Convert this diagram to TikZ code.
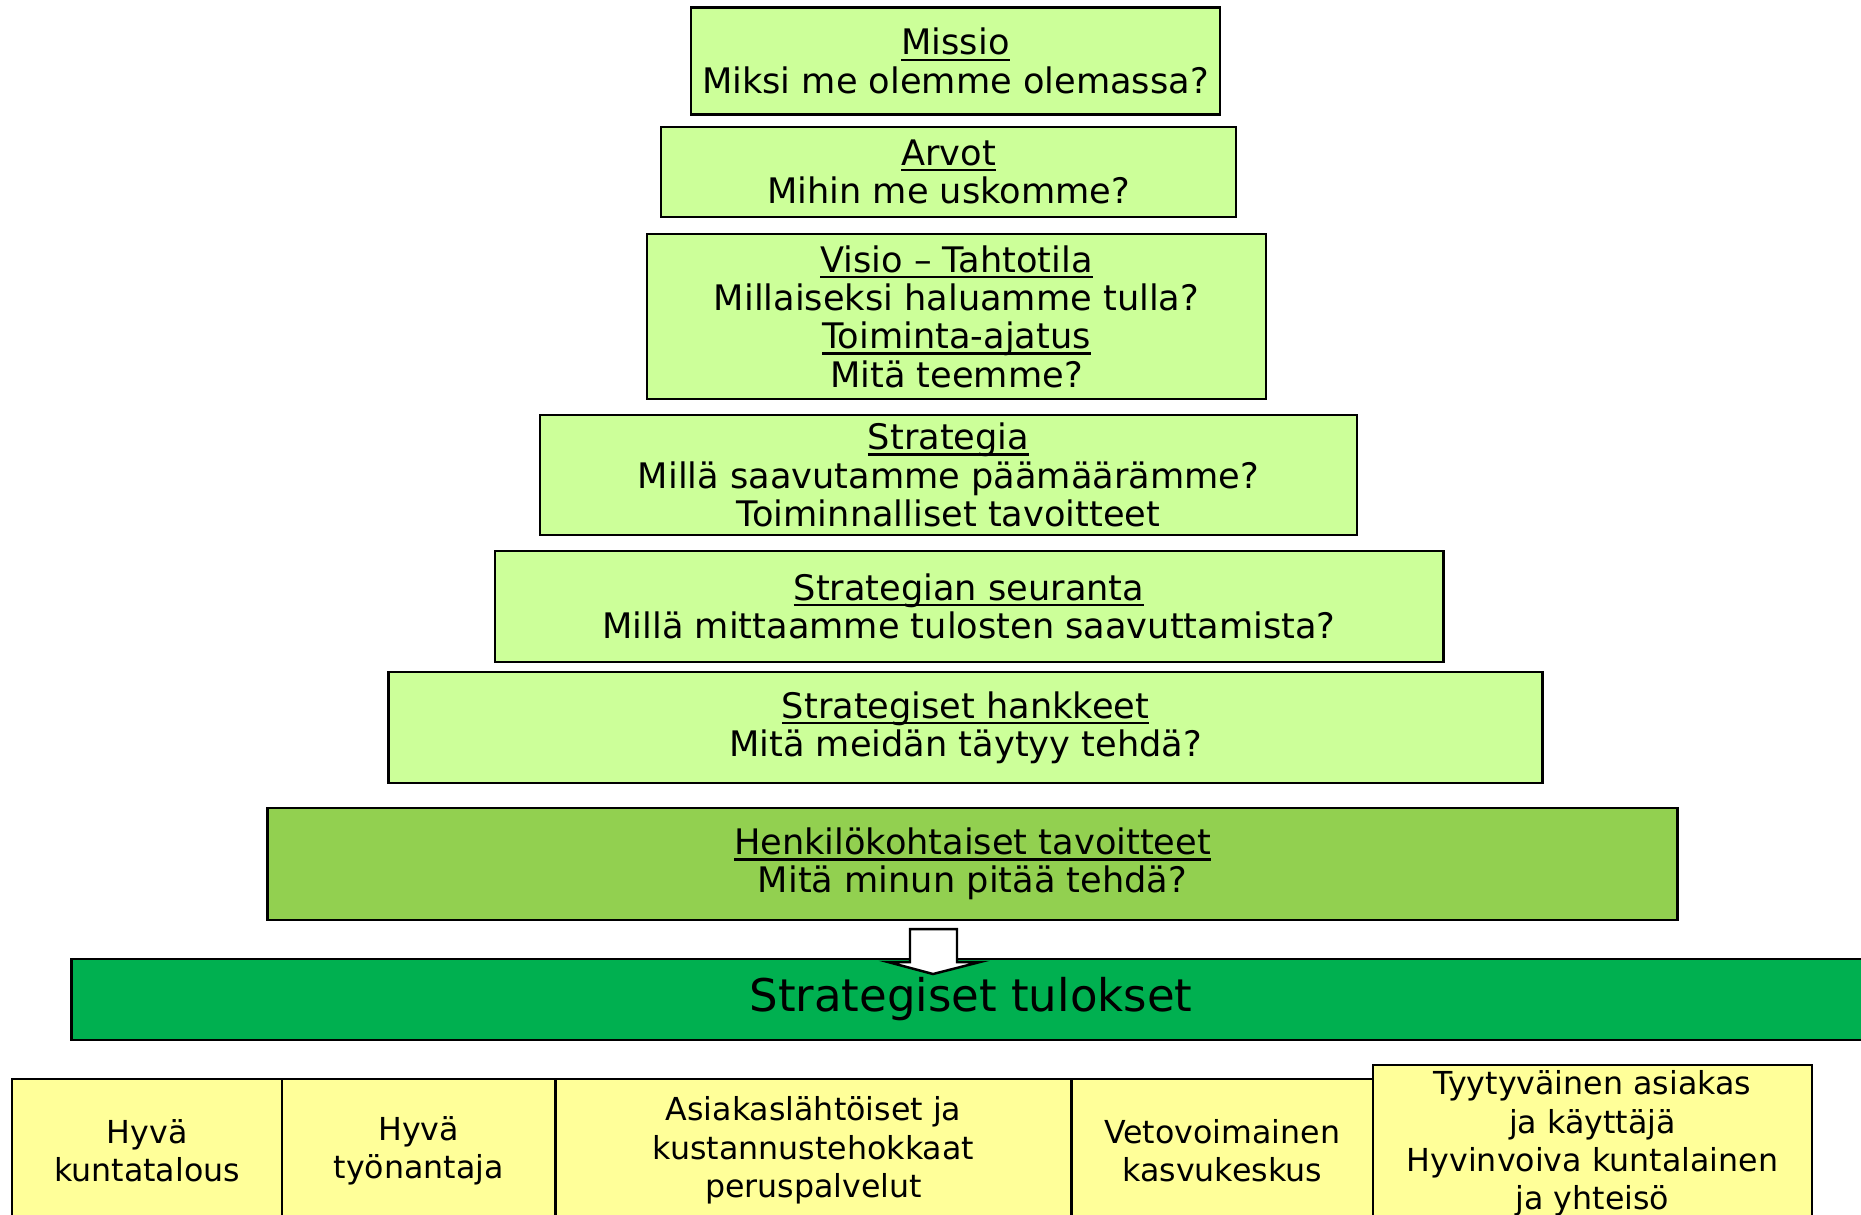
\documentclass[tikz,border=0pt]{standalone}
\usepackage{fontspec}
\setmainfont{DejaVu Sans}
\usepackage{xcolor}
\usetikzlibrary{positioning}
\definecolor{lightlime}{HTML}{CCFF99}
\definecolor{midgreen}{HTML}{92D050}
\definecolor{deepgreen}{HTML}{00B050}
\definecolor{paleyellow}{HTML}{FFFF99}
% underline that keeps the line spacing
\newcommand{\uln}[1]{\setbox0=\hbox{#1}\rlap{\rule[-0.17em]{\wd0}{0.065em}}\box0}

\begin{document}
\begin{tikzpicture}[
  x=0.01cm, y=-0.01cm,
  tier/.style={draw,line width=0.7pt,fill=lightlime,align=center,inner sep=0pt,
    font=\fontsize{10}{10.9}\selectfont},
  goal/.style={draw,line width=0.7pt,fill=paleyellow,align=center,inner sep=0pt,
    outer sep=0pt,minimum height=1.43cm,font=\fontsize{9}{10.9}\selectfont},
  node distance=0pt
    ]
\useasboundingbox (0,0) rectangle (1861,1214);
\clip (0,0) rectangle (1861,1214);

% pyramid
\node[tier,minimum width=5.29cm,minimum height=1.07cm] (missio) at (955.5,61)
  {\uln{Missio}\\Miksi me olemme olemassa?};
\node[tier,minimum width=5.75cm,minimum height=0.90cm] (arvot) at (948.5,172)
  {\uln{Arvot}\\Mihin me uskomme?};
\node[tier,minimum width=6.19cm,minimum height=1.65cm] (visio) at (956.5,316.5)
  {\uln{Visio – Tahtotila}\\Millaiseksi haluamme tulla?\\\uln{Toiminta-ajatus}\\Mitä teemme?};
\node[tier,minimum width=8.17cm,minimum height=1.20cm] (strategia) at (948.5,475)
  {\uln{Strategia}\\Millä saavutamme päämäärämme?\\Toiminnalliset tavoitteet};
\node[tier,minimum width=9.48cm,minimum height=1.11cm] (seuranta) at (969,606.5)
  {\uln{Strategian seuranta}\\Millä mittaamme tulosten saavuttamista?};
\node[tier,minimum width=11.53cm,minimum height=1.11cm] (hankkeet) at (965.5,727.5)
  {\uln{Strategiset hankkeet}\\Mitä meidän täytyy tehdä?};
\node[tier,fill=midgreen,minimum width=14.09cm,minimum height=1.12cm] (henk) at (972.5,864)
  {\uln{Henkilökohtaiset tavoitteet}\\Mitä minun pitää tehdä?};
\node[tier,fill=deepgreen,minimum width=17.98cm,minimum height=0.81cm,
  font=\fontsize{12.8}{15}\selectfont] (tulokset) at (971,999.5) {Strategiset tulokset};

% block arrow
\draw[line width=0.7pt,fill=white] (910,929) -- (957,929) -- (957,962) -- (980,962)
  -- (933,974) -- (888,962) -- (910,962) -- cycle;

% results
\node[goal,minimum width=2.70cm,anchor=north west] (talous) at (12,1079) {Hyvä\\kuntatalous};
\node[goal,minimum width=2.73cm,right=of talous] (tyonantaja) {Hyvä\\työnantaja};
\node[goal,minimum width=5.16cm,right=of tyonantaja] (palvelut)
  {Asiakaslähtöiset ja\\kustannustehokkaat\\peruspalvelut};
\node[goal,minimum width=3.01cm,right=of palvelut] (kasvu) {Vetovoimainen\\kasvukeskus};
\node[goal,minimum width=4.39cm,minimum height=1.57cm,anchor=south west] (asiakas)
  at (kasvu.south east)
  {Tyytyväinen asiakas\\ja käyttäjä\\Hyvinvoiva kuntalainen\\ja yhteisö};
\end{tikzpicture}
\end{document}
